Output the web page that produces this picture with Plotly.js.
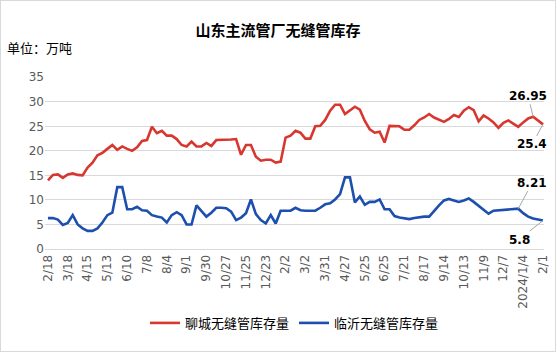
<!DOCTYPE html>
<html>
<head>
<meta charset="utf-8">
<script src="https://cdn.plot.ly/plotly-3.0.1.min.js"></script>
<style>
html,body{margin:0;padding:0;background:#fff;}
#wrap{width:556px;height:352px;box-sizing:border-box;border:1px solid #d9d9d9;}
#chart{width:554px;height:350px;}
</style>
</head>
<body>
<div id="wrap"><div id="chart"></div></div>
<script>
const titleText = '山东主流管厂无缝管库存';
const unitText = '单位：万吨';
const seriesNames = ['聊城无缝管库存量', '临沂无缝管库存量'];

const tickLabels = ['2/18','3/18','4/15','5/13','6/10','7/8','8/4','9/1','9/30','10/27','11/25','12/23',
  '2/2','3/2','3/31','4/27','5/25','6/25','7/21','8/17','9/14','10/13','11/9','12/7','2024/1/4','2/1'];
const tickEvery = 4;

const liaocheng = [
  14.0,15.1,15.2,14.5,15.2,15.4,15.1,15.0,16.6,17.6,19.1,19.6,20.4,21.2,20.2,20.9,20.4,20.0,20.7,22.0,
  22.2,24.9,23.6,24.1,23.1,23.1,22.4,21.2,20.9,21.9,20.9,20.9,21.6,21.0,22.2,22.2,22.2,22.3,22.4,19.2,
  21.2,21.2,18.8,18.0,18.2,18.2,17.6,17.8,22.7,23.1,24.1,23.7,22.5,22.5,25.0,25.1,26.3,28.2,29.4,29.4,
  27.5,28.2,29.0,28.4,26.1,24.4,23.7,23.9,21.7,25.1,25.0,25.0,24.3,24.3,25.2,26.3,26.8,27.5,26.8,26.3,
  25.9,26.5,27.3,26.9,28.2,28.9,28.3,26.0,27.2,26.6,25.8,24.7,25.7,26.2,25.6,24.9,25.8,26.6,26.95,26.2,25.4
];
const linyi = [
  6.3,6.3,6.0,4.9,5.3,6.9,5.0,4.2,3.7,3.7,4.2,5.4,6.9,7.4,12.6,12.6,8.1,8.1,8.6,7.9,
  7.8,6.9,6.6,6.4,5.4,6.9,7.5,6.9,5.0,5.0,8.9,7.8,6.6,7.4,8.4,8.4,8.3,7.6,5.9,6.4,
  7.3,10.1,7.1,5.9,5.2,6.9,5.2,7.8,7.8,7.8,8.4,7.9,7.8,7.8,7.8,8.4,9.1,9.3,10.1,11.2,
  14.6,14.6,9.5,10.7,9.0,9.6,9.6,10.1,8.1,8.1,6.7,6.4,6.3,6.1,6.3,6.5,6.6,6.6,7.8,8.9,
  9.9,10.2,9.9,9.6,9.9,10.3,9.6,8.8,8.0,7.2,7.8,7.9,7.9,8.0,8.1,8.21,7.3,6.6,6.2,6.0,5.8
];
const colors = ['#d8372f', '#1d4fae'];

const xIdx = liaocheng.map((_, i) => i);
const tickVals = tickLabels.map((_, k) => k * tickEvery);

// labelled points: [seriesIndex, pointIndex, ax, ay]
const labelled = [[0, 98, -5, -21], [0, 100, -11, 20], [1, 95, 14, -26], [1, 100, -24, 19]];
const allSeries = [liaocheng, linyi];

const traces = allSeries.map((ys, s) => ({
  x: xIdx, y: ys, type: 'scatter', mode: 'lines', name: seriesNames[s],
  line: {color: colors[s], width: 2.6}, hoverinfo: 'skip'
}));

const annotations = labelled.map(([s, i, ax, ay]) => ({
  x: i, y: allSeries[s][i], xref: 'x', yref: 'y',
  text: String(allSeries[s][i]), showarrow: true, arrowhead: 0, arrowwidth: 1,
  arrowcolor: '#a6a6a6', ax: ax, ay: ay, standoff: 0,
  font: {family: 'DejaVu Sans', size: 12, color: '#000', weight: 'bold'}
}));
annotations.push({
  xref: 'paper', yref: 'paper', x: -0.08, y: 1.17, xanchor: 'left', yanchor: 'middle',
  text: unitText, showarrow: false,
  font: {family: 'Noto Sans CJK SC', size: 13, color: '#000'}
});

const layout = {
  width: 554, height: 350,
  margin: {l: 44, r: 11, t: 76, b: 102},
  paper_bgcolor: '#fff', plot_bgcolor: '#fff',
  title: {text: titleText, x: 0.5, xanchor: 'center', y: 0.915, yanchor: 'middle',
    font: {family: 'Noto Sans CJK SC', size: 15, color: '#000', weight: 'bold'}},
  showlegend: true,
  legend: {orientation: 'h', x: 0.5, xanchor: 'center', y: -0.43, yanchor: 'middle',
    font: {family: 'Noto Sans CJK SC', size: 13, color: '#000'}, itemwidth: 30, tracegroupgap: 0},
  xaxis: {
    range: [-0.6, 100.2], tickmode: 'array', tickvals: tickVals, ticktext: tickLabels,
    tickangle: -90, showgrid: false, zeroline: false, showline: true, linecolor: '#d9d9d9', linewidth: 1,
    ticks: '', tickfont: {family: 'DejaVu Sans', size: 12, color: '#595959'}
  },
  yaxis: {
    range: [0, 35.05], tickmode: 'array', tickvals: [0,5,10,15,20,25,30,35],
    showgrid: true, gridcolor: '#d9d9d9', gridwidth: 1, zeroline: false, showline: false,
    ticks: '', ticklen: 0, tickfont: {family: 'DejaVu Sans', size: 12, color: '#595959'}
  },
  annotations: annotations
};

Plotly.newPlot('chart', traces, layout, {displayModeBar: false, staticPlot: true});
</script>
</body>
</html>
